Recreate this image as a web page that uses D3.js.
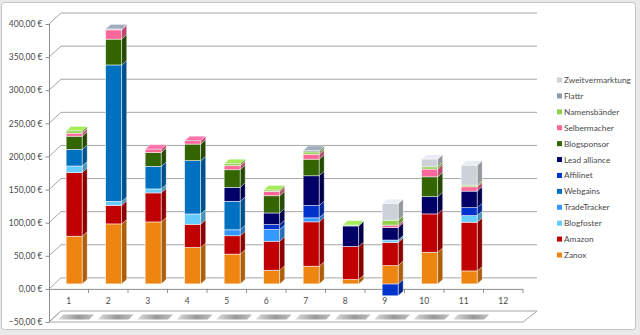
<!DOCTYPE html>
<html><head><meta charset="utf-8">
<script src="https://cdn.jsdelivr.net/npm/d3@7"></script>
<style>
html,body{margin:0;padding:0;background:#e9e9e9;}
svg{display:block;font-family:Lato,"Open Sans",sans-serif;}
</style></head>
<body>
<svg id="c" width="640" height="335"></svg>
<script>
// ---------- data ----------
const categories = ["1","2","3","4","5","6","7","8","9","10","11","12"];
const yTicks = [-50,0,50,100,150,200,250,300,350,400];
const seriesNames = ["Zanox","Amazon","Blogfoster","TradeTracker","Webgains","Affilinet","Lead alliance","Blogsponsor","Selbermacher","Namensbänder","Flattr","Zweitvermarktung"];
const seriesColors = ["#EE8510","#C00000","#66CCFF","#3399FF","#0070C0","#0033CC","#000066","#336600","#FF6699","#92D050","#8C99A6","#CDD1D8"];
const zanox        = [72, 90.6, 93.6, 55, 45, 20.6, 26.7, 6.5, 27.7, 47.8, 19.6, 0];
const amazon       = [96, 28, 43.8, 35, 27.7, 43.8, 67, 50, 35, 57.9, 73.5, 0];
const blogfoster   = [10, 6, 6, 15.6, 0, 0, 0, 0, 3.5, 0, 10, 0];
const tradetracker = [0, 0, 0, 0, 9, 17.6, 6, 0, 0, 0, 0, 0];
const webgains     = [25, 206, 34, 80.5, 43, 0, 0, 0, 0, 0, 0, 0];
const affilinet    = [0, 0, 0, 0, 0, 7.5, 18.6, 0, -18, 0, 12, 0];
const leadAlliance = [0, 0, 0, 0, 21, 17.6, 45, 31, 19, 26, 25, 0];
const blogsponsor  = [20, 39, 21, 25, 26.7, 26, 25, 0, 0, 30, 0, 0];
const selbermacher = [4.5, 14, 5, 5, 6, 6.5, 7.5, 0, 3.5, 11.6, 6.5, 0];
const namensbaender= [3.5, 0, 0, 0, 3, 2, 3.5, 1.2, 7.5, 3.5, 2.5, 0];
const flattr       = [0, 1.2, 0, 0, 0, 0, 2, 0, 0, 0, 0, 0];
const zweitverm    = [0, 0, 0, 0, 0, 0, 0, 0, 25, 11.6, 30, 0];
const seriesValues = [zanox,amazon,blogfoster,tradetracker,webgains,affilinet,leadAlliance,blogsponsor,selbermacher,namensbaender,flattr,zweitverm];

// table for d3.stack
const table = categories.map((c,i)=>{const r={cat:c}; seriesNames.forEach((s,k)=>r[s]=seriesValues[k][i]); return r;});

// ---------- geometry ----------
const svg = d3.select("#c");
const fmt = v => d3.format(",.2f")(v).replace(/,/g,"X").replace(/\./g,",").replace(/X/g,".") + " €";
const DX = 12, DY = 11;          // wall depth
const BDX = 5, BDY = 4.5;        // bar depth
const BOFFX = 5.4, BOFFY = 5;    // bar front offset into depth
const x = d3.scaleBand().domain(categories).range([49,523]);
const yF = d3.scaleLinear().domain([-50,400]).range([322,24]);
const yB = v => yF(v) - DY;
const yBar = v => yF(v) - BOFFY;
const barW = 16;
const txtC = "#4a4a4a";

// chart frame
svg.append("rect").attr("x",1.5).attr("y",2.5).attr("width",634).attr("height",327).attr("rx",3)
  .attr("fill","#fff").attr("stroke","#c4c4c4");

const gridC = "#a6a6a6";
// floor at -50
const fl = [[49,yF(-50)],[49+DX,yB(-50)],[523+DX+2,yB(-50)],[523,yF(-50)]];
svg.append("path").attr("d","M"+fl.map(p=>p.join(",")).join("L")+"Z").attr("fill","#fff").attr("stroke",gridC);

// back gridlines + left wall diagonals
svg.append("g").selectAll("line.g").data(yTicks.filter(v=>v>-50)).join("line")
  .attr("x1",49+DX).attr("x2",537).attr("y1",d=>yB(d)).attr("y2",d=>yB(d)).attr("stroke",gridC);
svg.append("g").selectAll("line").data(yTicks).join("line")
  .attr("x1",49).attr("x2",49+DX).attr("y1",d=>yF(d)).attr("y2",d=>yB(d)).attr("stroke",gridC);

// y axis
const yAxis = d3.axisLeft(yF).tickValues(yTicks).tickFormat(fmt).tickSize(4).tickPadding(3);
const ga = svg.append("g").attr("transform","translate(49.5,0)").call(yAxis);
ga.select(".domain").attr("stroke","#8c8c8c").attr("d","M0,"+yF(400)+"V"+yF(-50));
ga.selectAll(".tick line").attr("stroke","#8c8c8c");
ga.selectAll("text").attr("font-size",8.5).attr("fill",txtC).attr("font-family","Lato,'Open Sans',sans-serif");

// bar shadows on floor
const grad = svg.append("defs").append("linearGradient").attr("id","sh");
grad.append("stop").attr("offset","0%").attr("stop-color","#d8d8d8");
grad.append("stop").attr("offset","55%").attr("stop-color","#8e8e8e");
grad.append("stop").attr("offset","100%").attr("stop-color","#b8b8b8");
const used = categories.filter((c,i)=>seriesValues.some(s=>s[i]!==0));
svg.append("g").selectAll("path").data(used).join("path")
  .attr("d",c=>{const l=x(c)+BOFFX+(x.bandwidth()-barW)/2; const yb=yF(-50)-2.5, yt=yF(-50)-7.5;
    return `M${l-8},${yb}L${l-3},${yt}L${l+28},${yt}L${l+23},${yb}Z`;})
  .attr("fill","url(#sh)").attr("opacity",0.9);

// x axis line at 0
const gx = svg.append("g").attr("transform",`translate(0,${yF(0)})`)
  .call(d3.axisBottom(x).tickSize(0).tickPadding(9));
gx.select(".domain").attr("stroke","#8c8c8c").attr("d","M49,0.5H523");
gx.selectAll("text").attr("font-size",8.5).attr("fill",txtC).attr("font-family","Lato,'Open Sans',sans-serif");
svg.append("g").selectAll("line").data(categories).join("line")
  .attr("x1",c=>x(c)+x.bandwidth()).attr("x2",c=>x(c)+x.bandwidth())
  .attr("y1",yF(0)).attr("y2",yF(0)+4).attr("stroke","#8c8c8c");

// ---------- stacked 3D bars ----------
const stack = d3.stack().keys(seriesNames).offset(d3.stackOffsetDiverging)(table);
const shade = (c,k)=>d3.color(c).darker(k).formatHex();
const bars = svg.append("g");
categories.forEach((c,i)=>{
  const segs = [];
  stack.forEach((s,k)=>{const d=s[i]; if(d[1]-d[0]!==0) segs.push({k,lo:d[0],hi:d[1]});});
  segs.sort((a,b)=>a.lo-b.lo);
  const l = x(c) + (x.bandwidth()-barW)/2 + BOFFX;
  const g = bars.append("g");
  g.selectAll("g").data(segs).join("g").each(function(d){
    const el = d3.select(this), col = seriesColors[d.k];
    const yt = yBar(d.hi), yb = yBar(d.lo);
    el.append("path").attr("d",`M${l+barW},${yt}L${l+barW+BDX},${yt-BDY}L${l+barW+BDX},${yb-BDY}L${l+barW},${yb}Z`)
      .attr("fill",shade(col,0.9)).attr("stroke","#fff").attr("stroke-width",0.5).attr("stroke-opacity",0.6);
    el.append("path").attr("d",`M${l},${yt}L${l+BDX},${yt-BDY}L${l+barW+BDX},${yt-BDY}L${l+barW},${yt}Z`)
      .attr("fill",d3.color(col).brighter(0.35).formatHex()).attr("stroke","#fff").attr("stroke-width",0.5).attr("stroke-opacity",0.6);
    el.append("rect").attr("x",l).attr("y",yt).attr("width",barW).attr("height",yb-yt)
      .attr("fill",col).attr("stroke","#fff").attr("stroke-width",0.7).attr("stroke-opacity",0.75);
  });
});

// ---------- legend ----------
const lg = svg.append("g");
const legY = d3.scalePoint().domain(seriesNames.slice().reverse()).range([80,255]);
lg.selectAll("rect").data(seriesNames).join("rect")
  .attr("x",557).attr("y",d=>legY(d)-2.5).attr("width",5).attr("height",5)
  .attr("fill",(d,i)=>seriesColors[i]);
lg.selectAll("text").data(seriesNames).join("text")
  .attr("x",564).attr("y",d=>legY(d)+3).attr("font-size",8.3).attr("fill",txtC).text(d=>d);
</script>
</body></html>
